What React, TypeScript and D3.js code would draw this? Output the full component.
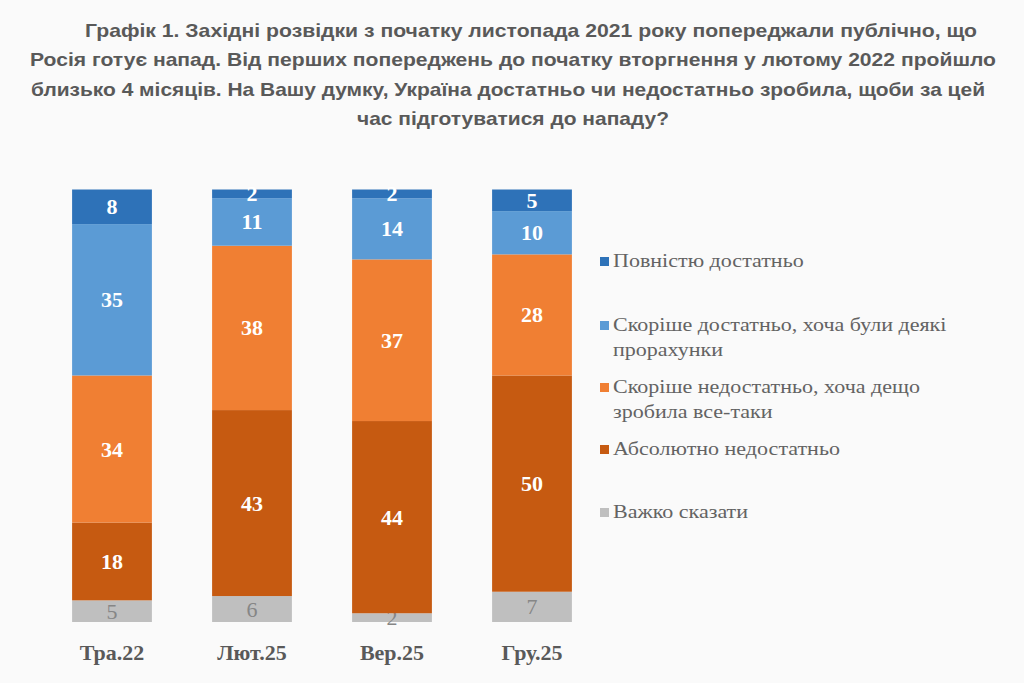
import React from 'react';
import * as d3 from 'd3';

const W = 1024;
const H = 683;

const titleLines = [
  'Графік 1. Західні розвідки з початку листопада 2021 року попереджали публічно, що',
  'Росія готує напад. Від перших попереджень до початку вторгнення у лютому 2022 пройшло',
  'близько 4 місяців. На Вашу думку, Україна достатньо чи недостатньо зробила, щоби за цей',
  'час підготуватися до нападу?',
];
// left and right edge of each title line in the picture
const titleSpan = [
  [85, 977],
  [30, 996],
  [31, 985],
  [357, 669],
];

const categories = ['Тра.22', 'Лют.25', 'Вер.25', 'Гру.25'];
const seriesNames = [
  'Повністю достатньо',
  'Скоріше достатньо, хоча були деякі прорахунки',
  'Скоріше недостатньо, хоча дещо зробила все-таки',
  'Абсолютно недостатньо',
  'Важко сказати',
];
// legend labels as wrapped in the picture
const legendLines = [
  ['Повністю достатньо'],
  ['Скоріше достатньо, хоча були деякі', 'прорахунки'],
  ['Скоріше недостатньо, хоча дещо', 'зробила все-таки'],
  ['Абсолютно недостатньо'],
  ['Важко сказати'],
];
const fullyEnough = [8, 2, 2, 5];
const ratherEnough = [35, 11, 14, 10];
const ratherNotEnough = [34, 38, 37, 28];
const absolutelyNot = [18, 43, 44, 50];
const hardToSay = [5, 6, 2, 7];

const colors = ['#2E72B8', '#5B9BD5', '#F07F33', '#C65A11', '#BFBFBF'];
const labelColors = ['#ffffff', '#ffffff', '#ffffff', '#ffffff', '#868686'];

const series = [fullyEnough, ratherEnough, ratherNotEnough, absolutelyNot, hardToSay];

export default function App() {
  // 100% stacked: each column normalised by its own total
  const rows = categories.map((c, i) => {
    const row: Record<string, number | string> = { cat: c };
    const total = d3.sum(series, (s) => s[i]);
    seriesNames.forEach((n, k) => {
      row[n] = series[k][i] / total;
    });
    return row;
  });
  // first series sits on top, so stack the keys bottom-up in reverse
  const stack = d3.stack<any>().keys([...seriesNames].reverse());
  const layers = stack(rows);

  const x = d3.scaleBand().domain(categories).range([42, 602]).paddingInner(0.43).paddingOuter(0.215);
  const y = d3.scaleLinear().domain([0, 1]).range([622, 189.5]);

  const titleFont = 'Liberation Sans, Arial, sans-serif';
  const serif = 'Liberation Serif, Times New Roman, serif';
  const legendY = [267, 331, 393, 455, 518];

  return (
    <svg width={W} height={H} style={{ display: 'block', position: 'absolute', left: 0, top: 0 }}>
      <rect width={W} height={H} fill="#fafafa" />
      {titleLines.map((t, i) => (
        <text
          key={i}
          x={titleSpan[i][0]}
          y={36.5 + i * 29.5}
          textLength={titleSpan[i][1] - titleSpan[i][0]}
          lengthAdjust="spacingAndGlyphs"
          fontFamily={titleFont}
          fontWeight="bold"
          fontSize={18.5}
          fill="#595959"
        >
          {t}
        </text>
      ))}
      {layers.map((layer) => {
        const k = seriesNames.indexOf(layer.key);
        return (
          <g key={layer.key}>
            {layer.map((d, i) => (
              <rect
                key={i}
                x={x(categories[i])}
                y={y(d[1])}
                width={x.bandwidth()}
                height={y(d[0]) - y(d[1])}
                fill={colors[k]}
              />
            ))}
            {layer.map((d, i) => (
              <text
                key={'t' + i}
                x={(x(categories[i]) as number) + x.bandwidth() / 2}
                y={(y(d[0]) + y(d[1])) / 2 + 7.5}
                textAnchor="middle"
                fontFamily={serif}
                fontWeight={k === 4 ? 'normal' : 'bold'}
                fontSize={22}
                fill={labelColors[k]}
              >
                {series[k][i]}
              </text>
            ))}
          </g>
        );
      })}
      {categories.map((c) => (
        <text
          key={c}
          x={(x(c) as number) + x.bandwidth() / 2}
          y={660}
          textAnchor="middle"
          fontFamily={serif}
          fontWeight="bold"
          fontSize={22}
          fill="#595959"
        >
          {c}
        </text>
      ))}
      {legendLines.map((lines, k) => (
        <g key={k}>
          <rect x={600} y={legendY[k] - 10} width={9} height={9} fill={colors[k]} />
          {lines.map((l, j) => (
            <text
              key={j}
              transform={`translate(613,${legendY[k] + j * 25}) scale(1.13,1)`}
              fontFamily={serif}
              fontSize={19.5}
              fill="#636363"
            >
              {l}
            </text>
          ))}
        </g>
      ))}
    </svg>
  );
}
